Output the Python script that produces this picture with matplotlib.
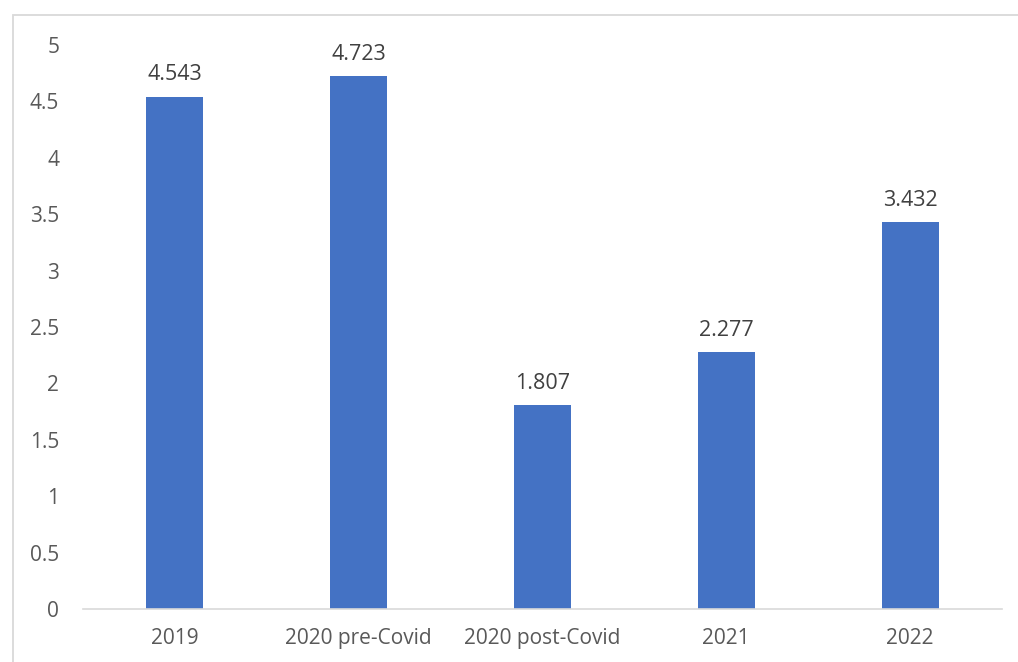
import matplotlib.pyplot as plt
from matplotlib.patches import Rectangle

categories = ['2019', '2020 pre-Covid', '2020 post-Covid', '2021', '2022']
values = [4.543, 4.723, 1.807, 2.277, 3.432]
yticks = [0, 0.5, 1, 1.5, 2, 2.5, 3, 3.5, 4, 4.5, 5]

tick_color = '#595959'
label_color = '#404040'
bar_color = '#4472c4'

plt.rcParams['font.family'] = ['Open Sans', 'DejaVu Sans']

fig = plt.figure(figsize=(10.18, 6.62), dpi=100)
ax = fig.add_axes([0.0815, 0.0801, 0.9028, 0.852])

x = list(range(len(categories)))
bars = ax.bar(x, values, width=0.31, color=bar_color, zorder=2)

# value labels on top of each bar
for rect, v in zip(bars, values):
    ax.annotate(f'{v:.3f}', (rect.get_x() + rect.get_width() / 2, v),
                xytext=(0, 8), textcoords='offset points',
                ha='center', va='bottom', fontsize=15.5, color=label_color)

ax.set_xlim(-0.5, len(categories) - 0.5)
ax.set_ylim(0, 5)
ax.set_yticks(yticks)
ax.set_yticklabels([f'{t:g}' for t in yticks])
ax.set_xticks(x)
ax.set_xticklabels(categories)
ax.tick_params(axis='both', length=0, labelsize=15, colors=tick_color)
ax.tick_params(axis='y', pad=17)
ax.tick_params(axis='x', pad=14)

for side in ['top', 'right', 'left']:
    ax.spines[side].set_visible(False)
ax.spines['bottom'].set_color('#d9d9d9')
ax.spines['bottom'].set_linewidth(1.2)

# chart area border
fig.patches.append(Rectangle((13 / 1018, -0.1), 1.2, 1.1 - 15 / 662,
                             transform=fig.transFigure, fill=False,
                             edgecolor='#d9d9d9', linewidth=1.3))

fig.savefig('out.png', dpi=100)
